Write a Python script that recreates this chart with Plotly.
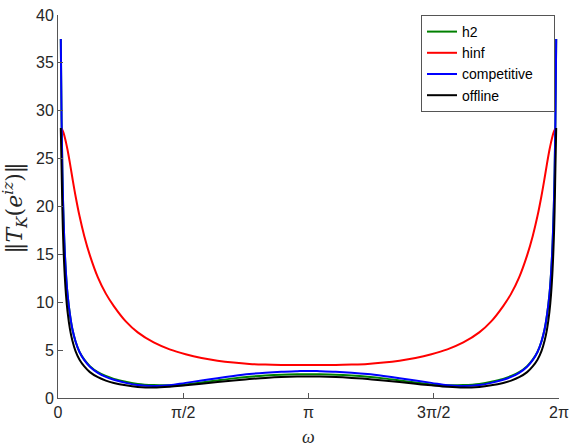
import math
import plotly.graph_objects as go

# frequency grid (rad)
omega = [0.035, 0.045, 0.055, 0.065, 0.08, 0.1, 0.12, 0.15, 0.18, 0.22, 0.27, 0.33, 0.4, 0.5,
         0.6, 0.7, 0.85, 1.0, 1.2, 1.4, 1.6, 1.8, 2.0, 2.2, 2.4, 2.6, 2.8, 3.0, 3.1416,
         3.2832, 3.4832, 3.6832, 3.8832, 4.0832, 4.2832, 4.4832, 4.6832, 4.8832, 5.0832,
         5.2832, 5.4332, 5.5832, 5.6832, 5.7832, 5.8832, 5.9532, 6.0132, 6.0632, 6.1032,
         6.1332, 6.1632, 6.1832, 6.2032, 6.2182, 6.2282, 6.2382, 6.2482]

h2 = [37.5, 28.9, 23.6, 20.0, 16.2, 13.0, 10.8, 8.7, 7.2, 5.9, 4.8, 4.0, 3.33, 2.7,
      2.3, 2.0, 1.7, 1.47, 1.35, 1.33, 1.42, 1.62, 1.84, 2.05, 2.22, 2.35, 2.44, 2.48, 2.49,
      2.48, 2.44, 2.35, 2.22, 2.05, 1.84, 1.62, 1.42, 1.33, 1.35,
      1.47, 1.7, 2.0, 2.3, 2.7, 3.33, 4.0, 4.8, 5.9, 7.2,
      8.7, 10.8, 13.0, 16.2, 20.0, 23.6, 28.9, 37.5]

hinf = [28.2, 28.1, 28.0, 27.8, 27.4, 26.7, 25.9, 24.5, 23.0, 21.1, 19.0, 16.9, 14.9, 12.6,
        10.9, 9.6, 8.0, 6.85, 5.8, 5.08, 4.57, 4.18, 3.9, 3.7, 3.56, 3.49, 3.45, 3.44, 3.44,
        3.44, 3.45, 3.49, 3.56, 3.7, 3.9, 4.18, 4.57, 5.08, 5.8,
        6.85, 8.0, 9.6, 10.9, 12.6, 14.9, 16.9, 19.0, 21.1, 23.0,
        24.5, 25.9, 26.7, 27.4, 27.8, 28.0, 28.1, 28.2]

competitive = [37.5, 28.9, 23.6, 20.0, 16.2, 13.0, 10.8, 8.7, 7.2, 5.9, 4.8, 3.95, 3.27, 2.62,
               2.2, 1.9, 1.58, 1.35, 1.25, 1.32, 1.58, 1.82, 2.07, 2.3, 2.5, 2.64, 2.74, 2.8, 2.83,
               2.8, 2.74, 2.64, 2.5, 2.3, 2.07, 1.82, 1.58, 1.32, 1.25,
               1.35, 1.58, 1.9, 2.2, 2.62, 3.27, 3.95, 4.8, 5.9, 7.2,
               8.7, 10.8, 13.0, 16.2, 20.0, 23.6, 28.9, 37.5]

offline = [28.2, 24.0, 19.6, 16.6, 13.5, 10.8, 9.0, 7.2, 6.0, 4.9, 4.0, 3.3, 2.7, 2.17,
           1.82, 1.57, 1.32, 1.16, 1.09, 1.17, 1.32, 1.48, 1.66, 1.83, 1.98, 2.1, 2.19, 2.24, 2.25,
           2.24, 2.19, 2.1, 1.98, 1.83, 1.66, 1.48, 1.32, 1.17, 1.09,
           1.16, 1.32, 1.57, 1.82, 2.17, 2.7, 3.3, 4.0, 4.9, 6.0,
           7.2, 9.0, 10.8, 13.5, 16.6, 19.6, 24.0, 28.2]

x_tickvals = [0, math.pi / 2, math.pi, 3 * math.pi / 2, 2 * math.pi]
x_ticktext = ["0", "π/2", "π", "3π/2", "2π"]
y_tickvals = [0, 5, 10, 15, 20, 25, 30, 35, 40]

series = [("h2", h2, "#008000"), ("hinf", hinf, "#ff0000"),
          ("competitive", competitive, "#0000ff"), ("offline", offline, "#000000")]
legend_pad = {"competitive": "&nbsp;&nbsp;&nbsp;&nbsp;"}

fig = go.Figure()
for name, vals, col in series:
    fig.add_trace(go.Scatter(x=omega, y=vals, mode="lines",
                             name=name + legend_pad.get(name, ""),
                             line=dict(color=col, width=2, shape="spline", smoothing=1.0)))

axis_col = "#555555"
text_col = "#262626"
fig.update_layout(
    width=576, height=446,
    margin=dict(l=58, r=12, t=7, b=48),
    paper_bgcolor="white", plot_bgcolor="white",
    font=dict(family="Liberation Sans, Arial, sans-serif", size=16, color=text_col),
    showlegend=True,
    legend=dict(x=0.992, y=1.0, xanchor="right", yanchor="top",
                bgcolor="white", bordercolor=axis_col, borderwidth=1,
                font=dict(size=14, color="#000000"), tracegroupgap=0),
    xaxis=dict(range=[0, 2 * math.pi], tickmode="array", tickvals=x_tickvals,
               ticktext=x_ticktext, ticks="inside", ticklen=5, tickcolor=axis_col,
               showline=True, linecolor=axis_col, linewidth=1, showgrid=False,
               zeroline=False, mirror=False, ticklabeloverflow="allow"),
    yaxis=dict(range=[0, 40], tickmode="array", tickvals=y_tickvals,
               ticks="inside", ticklen=5, tickcolor=axis_col,
               showline=True, linecolor=axis_col, linewidth=1, showgrid=False,
               zeroline=False, mirror=False, ticklabeloverflow="allow"),
    annotations=[
        dict(text="‖<i>T</i><sub><i>K</i></sub>(<i>e</i><sup><i>iz</i></sup>)‖",
             xref="paper", yref="paper", x=-0.086, y=0.497, xanchor="center", yanchor="middle",
             textangle=-90, showarrow=False,
             font=dict(family="DejaVu Serif, serif", size=22, color=text_col)),
        dict(text="<i>ω</i>", xref="paper", yref="paper", x=0.5, y=-0.102,
             xanchor="center", yanchor="middle", showarrow=False,
             font=dict(family="Liberation Serif, serif", size=18, color=text_col)),
    ],
)

fig.write_html("out.html", config={"displayModeBar": False},
               post_script="document.body.style.margin='0';")
